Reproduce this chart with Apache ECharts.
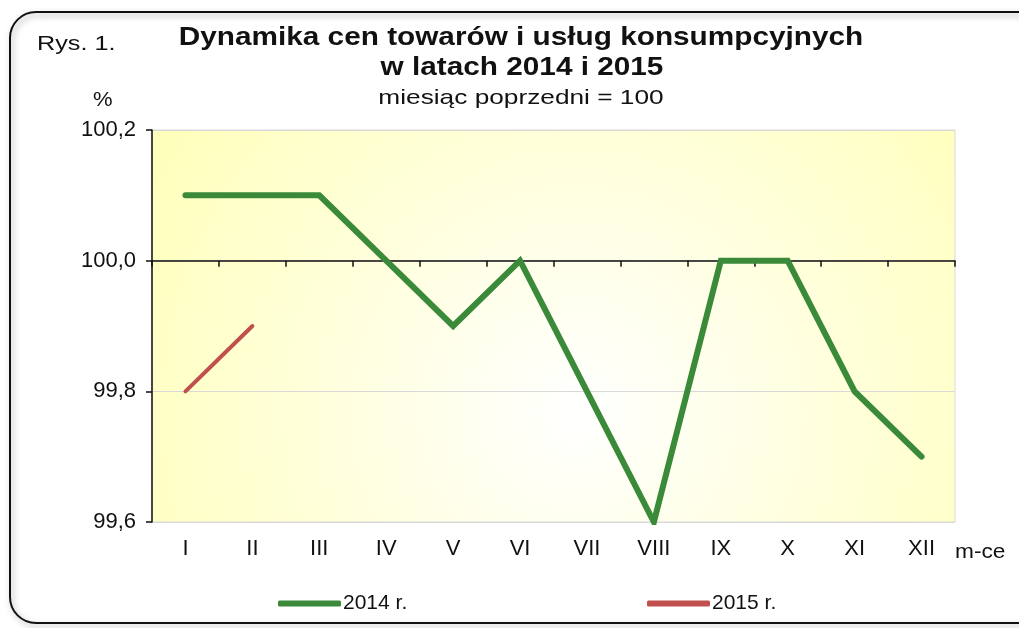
<!DOCTYPE html>
<html>
<head>
<meta charset="utf-8">
<script src="https://cdn.jsdelivr.net/npm/echarts@6/dist/echarts.min.js"></script>
<style>
  html, body { margin: 0; padding: 0; background: #fff; }
  #chart { width: 1019px; height: 628px; }
</style>
</head>
<body>
<div id="chart"></div>
<script>
// miesiące
const months = ['I', 'II', 'III', 'IV', 'V', 'VI', 'VII', 'VIII', 'IX', 'X', 'XI', 'XII']
// miesiąc poprzedni = 100
const values2014 = [100.1, 100.1, 100.1, 100.0, 99.9, 100.0, 99.8, 99.6, 100.0, 100.0, 99.8, 99.7]
const values2015 = [99.8, 99.9]
const yTicks = [99.6, 99.8, 100.0, 100.2]

const font = '"Liberation Sans", Arial, sans-serif'
const chart = echarts.init(document.getElementById('chart'))

// tekst rozciągnięty w poziomie jak w oryginale
const label = (text, x, y, size, opts = {}) => ({
  type: 'text', x, y,
  scaleX: opts.scaleX || 1.15,
  silent: true,
  style: {
    text,
    font: (opts.bold ? 'bold ' : '') + size + 'px ' + font,
    fill: '#111',
    align: opts.align || 'left',
    verticalAlign: 'middle'
  }
})

const option = {
  animation: false,
  textStyle: { fontFamily: font },
  graphic: [
    {
      type: 'rect',
      shape: { x: 10, y: 12, width: 1040, height: 611, r: 26 },
      style: { fill: 'none', stroke: '#111', lineWidth: 2, shadowBlur: 6, shadowColor: 'rgba(0,0,0,0.35)', shadowOffsetX: 2, shadowOffsetY: 3 },
      silent: true
    },
    label('Rys. 1.', 37, 44, 21, { scaleX: 1.2 }),
    label('Dynamika cen towarów i usług konsumpcyjnych', 521, 38, 25, { bold: true, align: 'center', scaleX: 1.19 }),
    label('w latach 2014 i 2015', 522, 68, 25, { bold: true, align: 'center', scaleX: 1.19 }),
    label('miesiąc poprzedni = 100', 521, 98, 21, { align: 'center', scaleX: 1.25 }),
    label('%', 93, 100, 20, { scaleX: 1.1 }),
    label('m-ce', 955, 552, 21, { scaleX: 1.08 })
  ],
  legend: [
    {
      data: ['2014 r.'], left: 273, top: 588,
      icon: 'roundRect', itemWidth: 63, itemHeight: 6, itemGap: 0,
      textStyle: { fontSize: 21, color: '#111', padding: [0, 0, 0, -3] }
    },
    {
      data: ['2015 r.'], left: 642, top: 588,
      icon: 'roundRect', itemWidth: 63, itemHeight: 6, itemGap: 0,
      textStyle: { fontSize: 21, color: '#111', padding: [0, 0, 0, -3] }
    }
  ],
  grid: [
    {
      left: 152, right: 64, top: 130, bottom: 106,
      show: true,
      borderColor: '#d9d9d9', borderWidth: 1,
      backgroundColor: {
        type: 'radial', x: 0.53, y: 0.72, r: 1.25,
        colorStops: [
          { offset: 0, color: '#ffffff' },
          { offset: 1, color: '#ffffbc' }
        ]
      }
    },
    // tylko oś kategorii przecinająca przy 100
    { left: 152, right: 64, top: 130, bottom: 367.3 }
  ],
  xAxis: [
    {
      type: 'category', data: months, gridIndex: 0,
      boundaryGap: true,
      axisLine: { show: false },
      axisTick: { show: false },
      axisLabel: { fontSize: 22, color: '#111', margin: 16 }
    },
    {
      type: 'category', data: months, gridIndex: 1,
      boundaryGap: true,
      axisLine: { show: true, lineStyle: { color: '#111', width: 1.5 } },
      axisTick: { show: true, length: 6, lineStyle: { color: '#111', width: 1.5 } },
      axisLabel: { show: false }
    }
  ],
  yAxis: [
    {
      type: 'value', gridIndex: 0,
      min: 99.6, max: 100.2, interval: 0.2,
      axisLine: { show: true, lineStyle: { color: '#111', width: 1.5 } },
      axisTick: { show: true, length: 6, lineStyle: { color: '#111', width: 1.5 } },
      splitLine: { show: true, lineStyle: { color: '#d9d9d9', width: 1 } },
      axisLabel: {
        fontSize: 22, color: '#111', margin: 16,
        customValues: yTicks,
        formatter: (v) => v.toFixed(1).replace('.', ',')
      }
    },
    {
      type: 'value', gridIndex: 1, min: 0, max: 1,
      show: false
    }
  ],
  series: [
    {
      name: '2014 r.', type: 'line', data: values2014,
      xAxisIndex: 0, yAxisIndex: 0,
      symbol: 'none', color: '#3a8a3a',
      lineStyle: { width: 6, color: '#3a8a3a', cap: 'round', join: 'miter' },
      z: 3
    },
    {
      name: '2015 r.', type: 'line', data: values2015,
      xAxisIndex: 0, yAxisIndex: 0,
      symbol: 'none', color: '#c0504d',
      lineStyle: { width: 4, color: '#c0504d', cap: 'round' },
      z: 3
    }
  ]
}
chart.setOption(option)
</script>
</body>
</html>
